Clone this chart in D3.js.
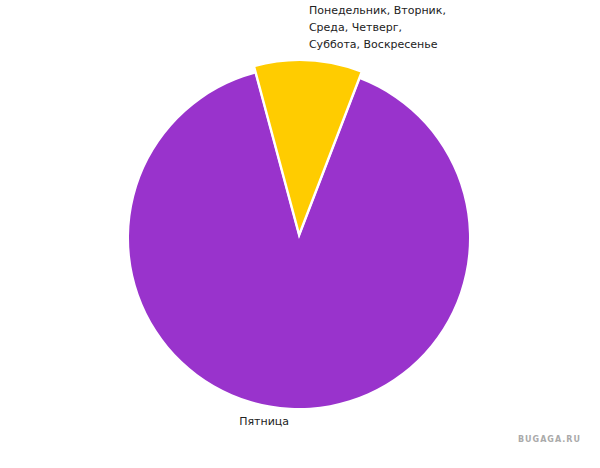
<!DOCTYPE html>
<html>
<head>
<meta charset="utf-8">
<script src="https://cdn.jsdelivr.net/npm/d3@7"></script>
<style>
  body { margin: 0; background: #fff; }
  svg { display: block; }
</style>
</head>
<body>
<div id="chart"></div>
<script>
// days of the week vs share
const categories = ["Понедельник, Вторник, Среда, Четверг, Суббота, Воскресенье", "Пятница"];
const labelLines = [["Понедельник, Вторник,", "Среда, Четверг,", "Суббота, Воскресенье"], ["Пятница"]];
const values = [10, 90];
const colors = ["#ffcc00", "#9933cc"];
const exploded = [true, false];

const width = 600, height = 468;
const cx = 299, cy = 238, radius = 170;

const svg = d3.select("#chart").append("svg")
    .attr("width", width)
    .attr("height", height);

const pie = d3.pie()
    .sort(null)
    .value(d => d)
    .startAngle(-15 * Math.PI / 180)
    .endAngle(345 * Math.PI / 180);

const arcs = pie(values);
const arc = d3.arc().innerRadius(0).outerRadius(radius);
const arcBig = d3.arc().innerRadius(0).outerRadius(radius + 5);

const g = svg.append("g").attr("transform", `translate(${cx},${cy})`);

// draw non-exploded first so the exploded slice sits on top
const order = arcs.map((d, i) => i).sort((a, b) => exploded[a] - exploded[b]);

g.selectAll("path")
    .data(order)
    .join("path")
    .attr("d", i => exploded[i] ? arcBig(arcs[i]) : arc(arcs[i]))
    .attr("transform", i => {
        if (!exploded[i]) return null;
        const a = (arcs[i].startAngle + arcs[i].endAngle) / 2;
        return `translate(${Math.sin(a) * 3},${-Math.cos(a) * 3})`;
    })
    .attr("fill", i => colors[i])
    .attr("stroke", i => exploded[i] ? "#fff" : "none")
    .attr("stroke-width", 2.5)
    .append("title")
    .text(i => `${categories[i]}: ${values[i]}`);

const labelR = 190, lineH = 17;
const labels = g.append("g")
    .style("font", "11px 'DejaVu Sans', Verdana, sans-serif")
    .attr("fill", "#222");

arcs.forEach((d, i) => {
    const a = (d.startAngle + d.endAngle) / 2;
    const x = Math.sin(a) * labelR;
    const y = -Math.cos(a) * labelR;
    const lines = labelLines[i];
    const t = labels.append("text")
        .attr("text-anchor", x >= 0 ? "start" : "end")
        .attr("x", x);
    lines.forEach((ln, k) => {
        const off = y < 0 ? (k - lines.length + 1) * lineH : k * lineH;
        t.append("tspan")
            .attr("x", x)
            .attr("y", y + off + (y < 0 ? 0 : -3))
            .text(ln);
    });
});

svg.append("text")
    .attr("x", 518)
    .attr("y", 442)
    .attr("fill", "#aaa")
    .attr("letter-spacing", "1px")
    .style("font", "bold 8px 'DejaVu Sans', sans-serif")
    .text("BUGAGA.RU");
</script>
</body>
</html>
